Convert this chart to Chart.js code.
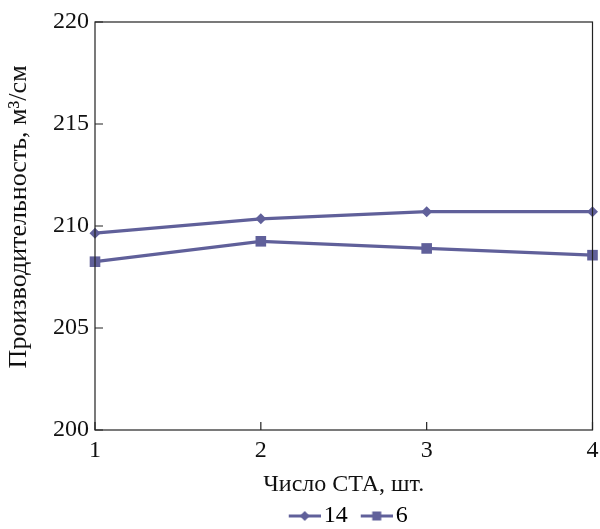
<!DOCTYPE html>
<html>
<head>
<meta charset="utf-8">
<script src="https://cdn.jsdelivr.net/npm/chart.js@4"></script>
<style>
  html, body { margin: 0; padding: 0; background: #fff; }
  #wrap { width: 600px; height: 529px; }
</style>
</head>
<body>
<div id="wrap"><canvas id="c" width="600" height="529"></canvas></div>
<script>
// данные с графика
const stations = [1, 2, 3, 4];
const series14 = [209.65, 210.35, 210.7, 210.7];
const series6 = [208.25, 209.25, 208.9, 208.57];
const seriesNames = ['14', '6'];
const yTicks = [200, 205, 210, 215, 220];

const LINE = 'rgb(96, 96, 154)';
const FONT = "'Liberation Serif', 'Times New Roman', serif";
const FS = 24;

// значок легенды: линия с маркером, прижат к правому краю картинки
function legendIcon(style) {
    const cv = document.createElement('canvas');
    cv.width = 50; cv.height = 12;
    const g = cv.getContext('2d');
    g.strokeStyle = LINE;
    g.fillStyle = LINE;
    g.lineWidth = 3;
    g.beginPath(); g.moveTo(18, 6); g.lineTo(50, 6); g.stroke();
    g.beginPath();
    if (style === 'rectRot') {
        g.moveTo(34, 1); g.lineTo(39, 6); g.lineTo(34, 11); g.lineTo(29, 6);
        g.closePath(); g.fill();
    } else {
        g.fillRect(29.5, 1.5, 9, 9);
    }
    return cv;
}

const toPoints = arr => arr.map((v, i) => ({ x: stations[i], y: v }));

// внутренние засечки и рамка вокруг области построения
const framePlugin = {
    id: 'frame',
    afterLayout(chart) {
        // легенда центрирована под областью построения
        if (chart.legend) {
            chart.legend.left = chart.chartArea.left;
            chart.legend.right = chart.chartArea.right;
        }
    },
    afterDraw(chart) {
        const { ctx, chartArea: a, scales } = chart;
        ctx.save();
        ctx.strokeStyle = '#222';
        ctx.lineWidth = 1.2;
        ctx.strokeRect(a.left, a.top, a.right - a.left, a.bottom - a.top);
        ctx.beginPath();
        yTicks.forEach(t => {
            const y = scales.y.getPixelForValue(t);
            ctx.moveTo(a.left, y); ctx.lineTo(a.left + 8, y);
        });
        stations.forEach(t => {
            const x = scales.x.getPixelForValue(t);
            ctx.moveTo(x, a.bottom); ctx.lineTo(x, a.bottom - 8);
        });
        ctx.stroke();
        ctx.restore();
    }
};

const makeSet = (label, data, style, size) => ({
    label,
    data: toPoints(data),
    borderColor: LINE,
    backgroundColor: LINE,
    borderWidth: 3.2,
    pointStyle: style,
    pointRadius: size,
    pointBorderWidth: 0,
    showLine: true,
    tension: 0,
    clip: false
});

new Chart(document.getElementById('c'), {
    type: 'scatter',
    data: {
        datasets: [
            makeSet(seriesNames[0], series14, 'rectRot', 5.5),
            makeSet(seriesNames[1], series6, 'rect', 7.5)
        ]
    },
    options: {
        responsive: false,
        animation: false,
        layout: { padding: { top: 22, right: 6, left: 0, bottom: -9 } },
        scales: {
            x: {
                type: 'linear', min: 1, max: 4,
                grid: { display: false },
                border: { display: false },
                ticks: { stepSize: 1, color: '#111', font: { family: FONT, size: FS }, padding: -2 },
                title: { display: true, text: 'Число СТА, шт.', color: '#111', font: { family: FONT, size: FS }, padding: { top: 2, bottom: 1 } },
                afterFit: s => { s.height = 70; s.paddingLeft = 0; s.paddingRight = 0; }
            },
            y: {
                min: 200, max: 220,
                grid: { display: false },
                border: { display: false },
                ticks: { stepSize: 5, color: '#111', font: { family: FONT, size: FS }, padding: -2 },
                title: { display: true, text: '\u2002\u2009Производительность, м³/см', color: '#111', font: { family: FONT, size: 26 }, padding: { top: 4, bottom: 4 } },
                afterFit: s => { s.width = 95; s.paddingTop = 0; s.paddingBottom = 0; }
            }
        },
        plugins: {
            tooltip: { enabled: false },
            legend: {
                position: 'bottom',
                labels: {
                    color: '#111',
                    font: { family: FONT, size: FS },
                    usePointStyle: true,
                    pointStyleWidth: 32,
                    padding: 4,
                    generateLabels: chart => chart.data.datasets.map((ds, i) => ({
                        text: ds.label,
                        pointStyle: legendIcon(ds.pointStyle),
                        fillStyle: LINE,
                        strokeStyle: LINE,
                        lineWidth: 0,
                        datasetIndex: i
                    }))
                }
            }
        }
    },
    plugins: [framePlugin]
});
</script>
</body>
</html>
